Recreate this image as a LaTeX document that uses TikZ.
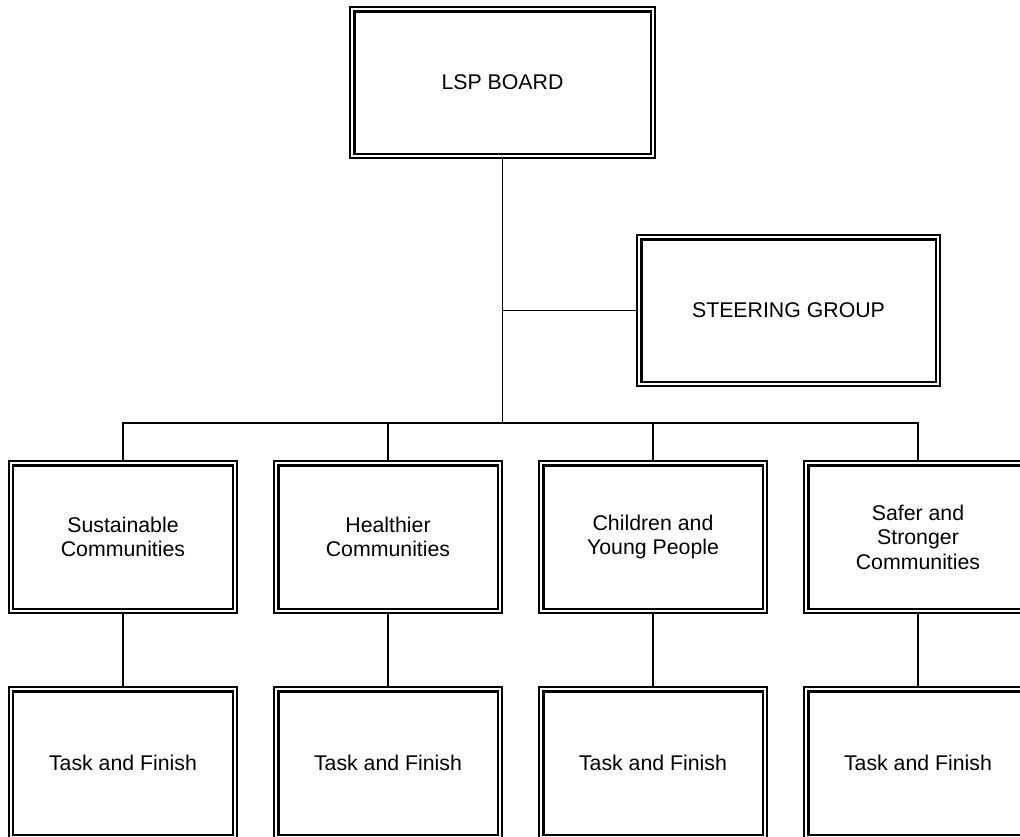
\documentclass[tikz,border=0pt]{standalone}
\usepackage{fontspec}
\setmainfont{Liberation Sans}
\usetikzlibrary{calc}
\tikzset{
	box/.style={draw, line width=0.45mm, minimum width=228pt, minimum height=152pt, inner sep=0pt, align=center, font=\fontsize{21.3}{24.5}\selectfont},
	rim/.style={line width=0.8mm},
	link/.style={line width=0.6mm}
}

\begin{document}
\begin{tikzpicture}[x=1pt, y=-1pt]
			%%%%% START %%%%%
			
			\useasboundingbox (0, 0) rectangle (1020, 836);
			
			\node[box, minimum width=305pt, minimum height=151pt] (board) at (502.5, 82.5) {LSP BOARD};
			\node[box, minimum width=303pt, minimum height=151pt] (grp) at (788.5, 310.5) {STEERING GROUP};
			
			\node[box] (sc) at (123, 537) {Sustainable\\Communities};
			\node[box] (hc) at (388, 537) {Healthier\\Communities};
			\node[box] (cyp) at (653, 537) {Children and\\Young People};
			\node[box] (ssc) at (918, 537) {Safer and\\Stronger\\Communities};
			
			\node[box] (tf1) at (123, 763) {Task and Finish};
			\node[box] (tf2) at (388, 763) {Task and Finish};
			\node[box] (tf3) at (653, 763) {Task and Finish};
			\node[box] (tf4) at (918, 763) {Task and Finish};
			
			% inner line of each box
			\foreach \n in {board, grp, sc, hc, cyp, ssc, tf1, tf2, tf3, tf4}
				\draw[rim] ([xshift=5pt, yshift=5pt]\n.south west) rectangle ([xshift=-5pt, yshift=-5pt]\n.north east);
			
			\coordinate (bus) at (502.5, 423);
			
			\draw[link] (board.south) -- (bus);
			\draw[link] (grp.west) -- (grp.west -| bus);
			\draw[link] (sc.north) -- (sc.north |- bus) -- (ssc.north |- bus) -- (ssc.north);
			\draw[link] (hc.north) -- (hc.north |- bus);
			\draw[link] (cyp.north) -- (cyp.north |- bus);
			
			\draw[link] (sc.south) -- (tf1.north);
			\draw[link] (hc.south) -- (tf2.north);
			\draw[link] (cyp.south) -- (tf3.north);
			\draw[link] (ssc.south) -- (tf4.north);
			
			%%%%% END %%%%%
\end{tikzpicture}
\end{document}
